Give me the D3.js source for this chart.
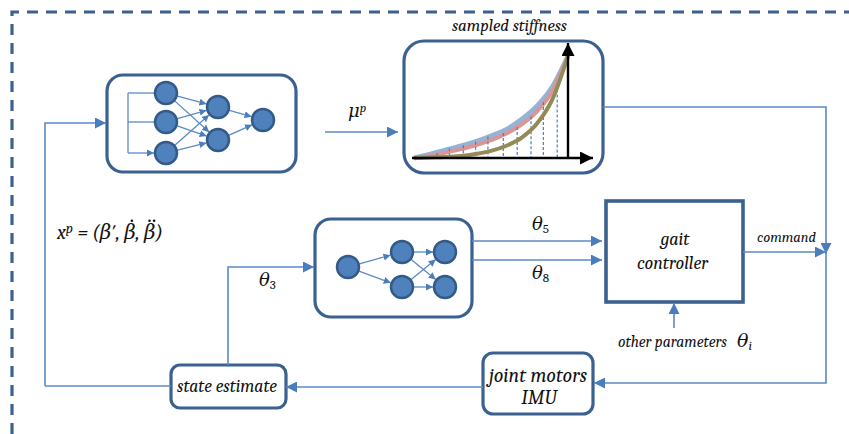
<!DOCTYPE html>
<html>
<head>
<meta charset="utf-8">
<script src="https://cdn.jsdelivr.net/npm/d3@7"></script>
<style>
  body { margin: 0; background: #fff; }
  svg { display: block; }
  .math { font-family: Cambria, Caladea, "DejaVu Serif", serif; font-style: italic; fill: #111; }
</style>
</head>
<body>
<svg></svg>
<script>
// stiffness curves, sampled at x = 0..10 (arbitrary units)
const curveX = [0, 1, 2, 3, 4, 5, 6, 7, 8, 9, 10];
const blueCurve = [0, 0.35, 0.75, 1.15, 1.6, 2.15, 2.8, 3.8, 5.1, 7.0, 10];
const redCurve = [0, 0.2, 0.5, 0.85, 1.25, 1.75, 2.4, 3.3, 4.6, 6.6, 10];
const oliveCurve = [0, 0.05, 0.1, 0.2, 0.4, 0.7, 1.2, 2.0, 3.4, 5.8, 10];
// sampled stiffness positions and heights
const sampleX = [1.5, 2.3, 3.2, 4.0, 4.8, 5.8, 6.7, 7.6, 8.4, 9.3];
const sampleY = [0.5, 0.95, 1.25, 1.6, 2.1, 2.45, 3.05, 4.1, 5.5, 7.2];

const labels = {
  stiffness: 'sampled stiffness',
  gait: ['gait', 'controller'],
  joint: ['joint motors', 'IMU'],
  state: 'state estimate',
  command: 'command',
  other: 'other parameters'
};

let width = 849;
let height = 434;
let boxColor = '#3a6190';
let lineColor = '#5b8ac6';
let nodeFill = '#4f81bd';

let svg = d3.select('svg').attr('width', width).attr('height', height);

let defs = svg.append('defs');
let marker = (id, color, size) => {
  defs.append('marker')
      .attr('id', id)
      .attr('viewBox', '0 0 10 10')
      .attr('refX', 10).attr('refY', 5)
      .attr('markerUnits', 'userSpaceOnUse')
      .attr('markerWidth', size).attr('markerHeight', size)
      .attr('orient', 'auto')
      .append('path')
      .attr('d', 'M0,0 L10,5 L0,10 Z')
      .attr('fill', color);
};
marker('arr', '#4a7ebb', 11);
marker('arrSmall', '#4a7ebb', 7);
marker('arrBlack', '#000', 13);

// dashed frame
svg.append('path')
   .attr('d', 'M12,434 L12,12 L849,12')
   .attr('fill', 'none')
   .attr('stroke', boxColor)
   .attr('stroke-width', 3.2)
   .attr('stroke-dasharray', '11,8');

let line = (pts, arrow, w) => {
  svg.append('path')
     .attr('d', d3.line()(pts))
     .attr('fill', 'none')
     .attr('stroke', lineColor)
     .attr('stroke-width', w || 1.6)
     .attr('marker-end', arrow ? 'url(#' + arrow + ')' : null);
};

let box = (x, y, w, h, r, sw) => {
  svg.append('rect')
     .attr('x', x).attr('y', y).attr('width', w).attr('height', h)
     .attr('rx', r).attr('ry', r)
     .attr('fill', 'none')
     .attr('stroke', boxColor)
     .attr('stroke-width', sw || 3.2);
};

let text = (x, y, s, size, anchor) => {
  return svg.append('text')
     .attr('class', 'math')
     .attr('x', x).attr('y', y)
     .attr('font-size', size)
     .attr('text-anchor', anchor || 'middle')
     .text(s);
};

// scale a label's font so that it spans the width seen in the picture
let fit = (sel, w) => {
  let len = sel.node().getComputedTextLength();
  if (len > 0) sel.attr('font-size', +sel.attr('font-size') * w / len);
  return sel;
};

// neural nets
let drawNet = (nodes, edges) => {
  let r = 11;
  edges.forEach(([a, b]) => {
    let p = nodes[a], q = nodes[b];
    let dx = q[0] - p[0], dy = q[1] - p[1];
    let len = Math.sqrt(dx * dx + dy * dy);
    let ux = dx / len, uy = dy / len;
    line([[p[0] + ux * r, p[1] + uy * r], [q[0] - ux * (r + 1), q[1] - uy * (r + 1)]], 'arrSmall', 1.3);
  });
  nodes.forEach(n => {
    svg.append('circle')
       .attr('cx', n[0]).attr('cy', n[1]).attr('r', r)
       .attr('fill', nodeFill)
       .attr('stroke', '#345a88')
       .attr('stroke-width', 2.5);
  });
};

// top network
box(107, 75, 189, 97, 16);
line([[128, 93], [128, 153]], null, 1.3);
[93, 122].forEach(y => line([[128, y], [155, y]], null, 1.3));
line([[128, 153], [154, 153]], 'arrSmall', 1.3);
drawNet([[166, 93], [166, 122], [166, 153], [218, 107], [218, 140], [263, 120]],
        [[0, 3], [0, 4], [1, 3], [1, 4], [2, 3], [2, 4], [3, 5], [4, 5]]);

// middle network
box(315, 219, 157, 98, 16);
drawNet([[348, 267], [402, 252], [402, 287], [445, 252], [445, 287]],
        [[0, 1], [0, 2], [1, 3], [1, 4], [2, 3], [2, 4]]);

// stiffness panel
box(404, 41, 199, 132, 20);
fit(text(509.5, 31, labels.stiffness, 14), 115);

let xs = d3.scaleLinear().domain([0, 10]).range([414, 568]);
let ys = d3.scaleLinear().domain([0, 10]).range([158, 56]);
let curveLine = d3.line().x((d, i) => xs(curveX[i])).y(d => ys(d)).curve(d3.curveMonotoneX);

svg.append('path').attr('d', curveLine(blueCurve)).attr('fill', 'none')
   .attr('stroke', '#95b3d7').attr('stroke-width', 5);
svg.append('path').attr('d', curveLine(redCurve)).attr('fill', 'none')
   .attr('stroke', '#d99694').attr('stroke-width', 4);
sampleX.forEach((x, i) => {
  svg.append('line')
     .attr('x1', xs(x)).attr('x2', xs(x))
     .attr('y1', ys(sampleY[i])).attr('y2', ys(0))
     .attr('stroke', '#4a7ebb').attr('stroke-width', 1.2)
     .attr('stroke-dasharray', '3,2');
});
svg.append('path').attr('d', curveLine(oliveCurve)).attr('fill', 'none')
   .attr('stroke', '#948a54').attr('stroke-width', 4);

// axes
svg.append('line').attr('x1', 412).attr('y1', ys(0)).attr('x2', 593).attr('y2', ys(0))
   .attr('stroke', '#000').attr('stroke-width', 2.4).attr('marker-end', 'url(#arrBlack)');
svg.append('line').attr('x1', xs(10)).attr('y1', ys(0)).attr('x2', xs(10)).attr('y2', 43)
   .attr('stroke', '#000').attr('stroke-width', 2.4).attr('marker-end', 'url(#arrBlack)');

// gait controller
box(606, 201, 137, 101, 0, 3.6);
text(675, 245, labels.gait[0], 18);
text(672.5, 269, labels.gait[1], 18);

// joint motors / IMU
box(483, 353, 110, 61, 10);
let jm = fit(text(538, 382, labels.joint[0], 18), 98);
text(539, 404, labels.joint[1], +jm.attr('font-size'));

// state estimate
box(171, 365, 115, 43, 9);
fit(text(227, 392, labels.state, 17), 100);

// connections
line([[45, 386], [45, 123], [106, 123]], 'arr');
line([[45, 386], [171, 386]]);
line([[325, 132], [398, 132]], 'arr');
line([[603, 107], [826, 107], [826, 254]], 'arr');
line([[826, 250], [826, 383], [594, 383]], 'arr');
line([[743, 252], [826, 252]], 'arr');
line([[483, 387], [286, 387]], 'arr');
line([[228, 365], [228, 267], [314, 267]], 'arr');
line([[472, 241], [602, 241]], 'arr');
line([[472, 260], [602, 260]], 'arr');
line([[674, 328], [674, 303]], 'arr');

// math labels
let t = text(348, 117, '', 18, 'start');
t.append('tspan').text('μ');
t.append('tspan').attr('dy', '-0.4em').attr('font-size', '0.72em').text('p');

let tx = text(57, 239, '', 18, 'start');
tx.append('tspan').text('x');
tx.append('tspan').attr('dy', '-0.4em').attr('font-size', '0.72em').text('p');
tx.append('tspan').attr('dy', '0.29em').text(' = (β′, β, β)');
fit(tx, 106);
// dots over the derivative symbols
let txFs = +tx.attr('font-size');
let dotAt = (i, offsets) => {
  let n = tx.node();
  let x0 = n.getStartPositionOfChar(i).x;
  let x1 = n.getEndPositionOfChar(i).x;
  let cx = (x0 + x1) / 2 + txFs * 0.1;
  offsets.forEach(o => {
    svg.append('circle')
       .attr('cx', cx + o).attr('cy', 239 - txFs * 0.92)
       .attr('r', 1.3).attr('fill', '#111');
  });
};
dotAt(10, [0]);
dotAt(13, [-2.3, 2.3]);

let th = (x, y, sub) => {
  let s = text(x, y, '', 18, 'start');
  s.append('tspan').text('θ');
  s.append('tspan').attr('dy', '0.25em').attr('font-size', '0.72em').attr('font-style', 'normal').text(sub);
};
th(532, 230, '5');
th(532, 279, '8');
th(259, 286, '3');

fit(text(786.5, 242, labels.command, 13), 59);
fit(text(618, 347, labels.other, 14, 'start'), 109);
let ti = text(737, 347, '', 19, 'start');
ti.append('tspan').text('θ');
ti.append('tspan').attr('dy', '0.25em').attr('font-size', '0.7em').text('i');
</script>
</body>
</html>
